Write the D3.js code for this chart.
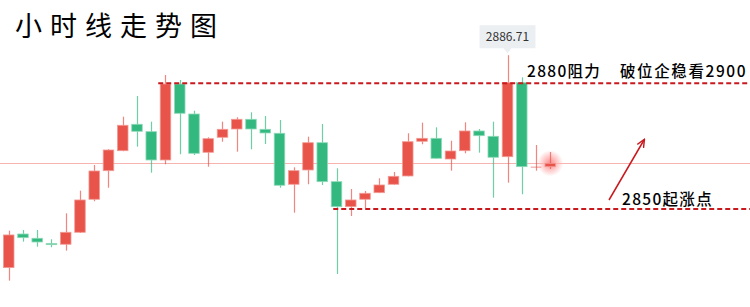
<!DOCTYPE html>
<meta charset="utf-8">
<style>
body { margin: 0; background: #fff; }
text { font-family: "Noto Sans CJK SC", "Noto Sans", sans-serif; }
</style>
<body>
<script src="https://d3js.org/d3.v7.min.js"></script>
<script>

// hourly candles
var opens  = [2836.0, 2844.03, 2843.01, 2841.77, 2841.58, 2844.44, 2852.32, 2859.14, 2863.91, 2870.22,
              2868.45, 2861.70, 2879.83, 2872.67, 2863.53, 2867.11, 2869.09, 2871.41, 2869.02, 2868.07,
              2855.90, 2859.31, 2865.82, 2856.52, 2850.55, 2852.32, 2853.89, 2855.90, 2857.88, 2866.16,
              2866.87, 2861.93, 2863.91, 2868.62, 2867.35, 2862.48, 2880.14, 2860.10, 2860.10];
var highs  = [2844.82, 2844.99, 2844.99, 2842.77, 2848.97, 2854.37, 2860.50, 2864.25, 2872.03, 2876.97,
              2870.84, 2881.98, 2880.79, 2873.46, 2867.11, 2870.84, 2871.89, 2873.08, 2872.20, 2871.24,
              2859.95, 2867.26, 2870.29, 2859.71, 2854.77, 2854.30, 2857.33, 2858.83, 2868.07, 2870.60,
              2869.50, 2866.30, 2870.69, 2869.09, 2870.84, 2886.71, 2881.43, 2865.27, 2863.60];
var lows   = [2832.89, 2842.20, 2841.00, 2840.86, 2840.05, 2844.27, 2851.84, 2855.08, 2863.80, 2864.87,
              2858.66, 2860.67, 2863.06, 2862.89, 2860.10, 2866.06, 2863.68, 2864.25, 2865.51, 2855.08,
              2849.12, 2855.90, 2855.73, 2834.49, 2848.33, 2850.17, 2853.80, 2855.80, 2857.80, 2865.44,
              2862.00, 2859.14, 2863.29, 2863.44, 2852.70, 2856.28, 2853.51, 2859.14, 2859.55];
var closes = [2843.80, 2843.15, 2842.12, 2841.53, 2844.44, 2852.15, 2859.07, 2864.08, 2869.98, 2868.54,
              2861.70, 2879.83, 2872.84, 2863.29, 2866.78, 2869.02, 2871.41, 2869.09, 2868.14, 2855.66,
              2859.14, 2865.82, 2856.52, 2850.55, 2852.15, 2853.75, 2855.73, 2857.80, 2866.06, 2866.87,
              2862.10, 2863.84, 2868.62, 2867.49, 2862.34, 2880.14, 2860.10, 2860.12, 2860.91];

var resistance = 2880;
var support = 2850;
var highLabel = "2886.71";
var title = "小时线走势图";
var resistText = "2880阻力";
var breakText = "破位企稳看2900";
var supportText = "2850起涨点";

var width = 750, height = 307;
var upColor = "#e8534a", downColor = "#33b97f";

var svg = d3.select("body").append("svg")
    .attr("width", width)
    .attr("height", height);

var idx = d3.range(opens.length);

var x = d3.scaleBand()
    .domain(idx)
    .range([1.6, 557.4])
    .paddingInner(0.26)
    .paddingOuter(0.13);

var y = d3.scaleLinear()
    .domain([2900, 2826.7])
    .range([-0.5, 306.6]);

var cx = function(i) { return x(i) + x.bandwidth() / 2; };

// glow behind the last candle
var defs = svg.append("defs");
var glow = defs.append("radialGradient").attr("id", "glow");
glow.append("stop").attr("offset", "0%").attr("stop-color", "#ff2a2a").attr("stop-opacity", 0.55);
glow.append("stop").attr("offset", "100%").attr("stop-color", "#ff2a2a").attr("stop-opacity", 0);

var last = opens.length - 1;
svg.append("circle")
    .attr("cx", cx(last))
    .attr("cy", y(closes[last]))
    .attr("r", 13)
    .attr("fill", "url(#glow)");

// current price line
svg.append("line")
    .attr("x1", 0).attr("x2", width)
    .attr("y1", Math.round(y(closes[last])) + 0.5)
    .attr("y2", Math.round(y(closes[last])) + 0.5)
    .attr("stroke", "#f6b3b0")
    .attr("stroke-width", 1);

// candles
var candle = svg.selectAll(".candle")
    .data(idx)
  .enter().append("g")
    .attr("class", "candle");

candle.append("line")
    .attr("x1", function(i) { return Math.round(cx(i)) + 0.5; })
    .attr("x2", function(i) { return Math.round(cx(i)) + 0.5; })
    .attr("y1", function(i) { return y(highs[i]); })
    .attr("y2", function(i) { return y(lows[i]); })
    .attr("stroke", function(i) { return closes[i] >= opens[i] ? upColor : downColor; })
    .attr("stroke-opacity", 0.7)
    .attr("stroke-width", 1.2);

candle.append("rect")
    .attr("x", function(i) { return x(i); })
    .attr("width", x.bandwidth())
    .attr("y", function(i) { return y(Math.max(opens[i], closes[i])); })
    .attr("height", function(i) { return Math.max(1.2, Math.abs(y(opens[i]) - y(closes[i]))); })
    .attr("fill", function(i) { return closes[i] >= opens[i] ? upColor : downColor; })
    .attr("stroke", function(i) { return closes[i] >= opens[i] ? "#f29b95" : "#8fd9b8"; })
    .attr("stroke-width", 0.8)
    .attr("fill-opacity", function(i) { return i === last - 1 ? 0.5 : 1; })
    .attr("stroke-opacity", function(i) { return i === last - 1 ? 0 : 1; });

// dashed support / resistance
svg.append("line")
    .attr("x1", x(11) - 2).attr("x2", width)
    .attr("y1", y(resistance)).attr("y2", y(resistance))
    .attr("stroke", "#c8191f")
    .attr("stroke-width", 2)
    .attr("stroke-dasharray", "5,3");

svg.append("line")
    .attr("x1", x(23) + 2).attr("x2", width)
    .attr("y1", y(support)).attr("y2", y(support))
    .attr("stroke", "#c8191f")
    .attr("stroke-width", 2)
    .attr("stroke-dasharray", "5,3");

// high tooltip
var hx = cx(35), hy = y(highs[35]);
var tip = svg.append("g");
tip.append("path")
    .attr("d", "M" + (hx - 28) + "," + (hy - 30) +
               " h56 v23 h-24 l-4,5 l-4,-5 h-24 z")
    .attr("fill", "#eceff2");
tip.append("text")
    .attr("x", hx)
    .attr("y", hy - 14.5)
    .attr("text-anchor", "middle")
    .attr("font-size", 12)
    .attr("fill", "#333")
    .text(highLabel);

// title
svg.append("text")
    .attr("x", 15)
    .attr("y", 36)
    .attr("font-size", 27)
    .attr("letter-spacing", 8)
    .attr("fill", "#000")
    .text(title);

// annotations
svg.append("text")
    .attr("x", 527)
    .attr("y", 77)
    .attr("font-size", 15.5)
    .attr("font-weight", 500)
    .attr("letter-spacing", 1.3)
    .attr("fill", "#000")
    .text(resistText);

svg.append("text")
    .attr("x", 620)
    .attr("y", 77)
    .attr("font-size", 15.5)
    .attr("font-weight", 500)
    .attr("letter-spacing", 1.6)
    .attr("fill", "#000")
    .text(breakText);

svg.append("text")
    .attr("x", 622)
    .attr("y", 205)
    .attr("font-size", 15.5)
    .attr("font-weight", 500)
    .attr("letter-spacing", 1.3)
    .attr("fill", "#000")
    .text(supportText);

// arrow
defs.append("marker")
    .attr("id", "arrow")
    .attr("viewBox", "0 0 10 10")
    .attr("refX", 8).attr("refY", 5)
    .attr("markerWidth", 6).attr("markerHeight", 6)
    .attr("orient", "auto")
  .append("path")
    .attr("d", "M0,1 L9,5 L0,9")
    .attr("fill", "none")
    .attr("stroke", "#c8191f")
    .attr("stroke-width", 1.6);

svg.append("line")
    .attr("x1", 609).attr("y1", 200)
    .attr("x2", 644).attr("y2", 140)
    .attr("stroke", "#c8191f")
    .attr("stroke-width", 1.5)
    .attr("marker-end", "url(#arrow)");

</script>
</body>
